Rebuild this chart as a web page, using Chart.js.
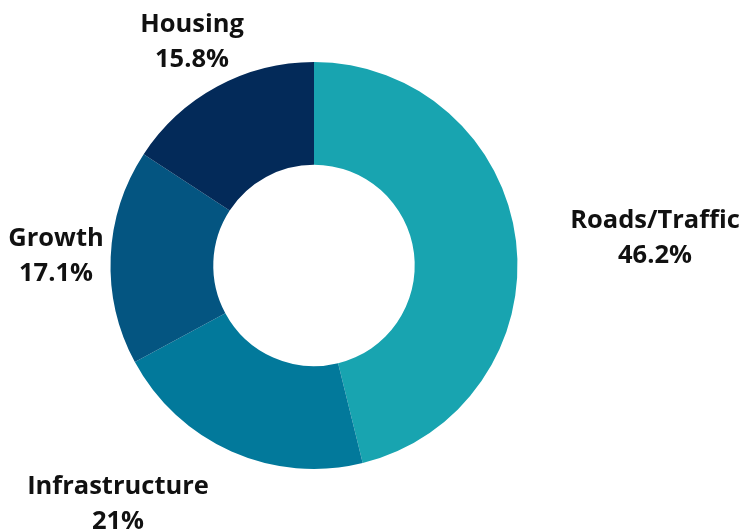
<!DOCTYPE html>
<html>
<head>
<meta charset="utf-8">
<script src="https://cdn.jsdelivr.net/npm/chart.js@4.4.1/dist/chart.umd.min.js"></script>
<style>
  html, body { margin: 0; padding: 0; background: #ffffff; }
  #wrap { width: 743px; height: 530px; position: relative; }
</style>
</head>
<body>
<div id="wrap"><canvas id="topicChart"></canvas></div>
<script>
/* ---------- data ---------- */
const categories = ['Roads/Traffic', 'Infrastructure', 'Growth', 'Housing'];
const shares = [46.2, 21, 17.1, 15.8];
const sliceColors = ['#18a4b0', '#02799b', '#045581', '#032a59'];
const shareLabels = ['46.2%', '21%', '17.1%', '15.8%'];

/* label placement, offset from the doughnut centre (x = text centre, y = first baseline) */
const labelOffsets = [
    { dx: 341, dy: -38 },
    { dx: -196, dy: 228 },
    { dx: -258, dy: -20 },
    { dx: -122, dy: -234 }
];

/* ---------- outside labels ---------- */
const outsideLabels = {
    id: 'outsideLabels',
    afterDatasetsDraw(chart) {
        const ctx = chart.ctx;
        const arc = chart.getDatasetMeta(0).data[0];
        const cx = arc.x, cy = arc.y;
        ctx.save();
        ctx.fillStyle = '#111111';
        ctx.font = 'bold 25.5px "Open Sans"';
        ctx.textAlign = 'center';
        ctx.textBaseline = 'alphabetic';
        categories.forEach((name, i) => {
            const o = labelOffsets[i];
            ctx.fillText(name, cx + o.dx, cy + o.dy);
            ctx.fillText(shareLabels[i], cx + o.dx, cy + o.dy + 35);
        });
        ctx.restore();
    }
};

new Chart(document.getElementById('topicChart'), {
    type: 'doughnut',
    data: {
        labels: categories,
        datasets: [{
            data: shares,
            backgroundColor: sliceColors,
            borderWidth: 0
        }]
    },
    options: {
        responsive: true,
        maintainAspectRatio: false,
        animation: false,
        cutout: '49.5%',
        layout: { padding: { top: 62, bottom: 61, left: 110, right: 225 } },
        plugins: {
            legend: { display: false },
            tooltip: { enabled: false }
        }
    },
    plugins: [outsideLabels]
});
</script>
</body>
</html>
